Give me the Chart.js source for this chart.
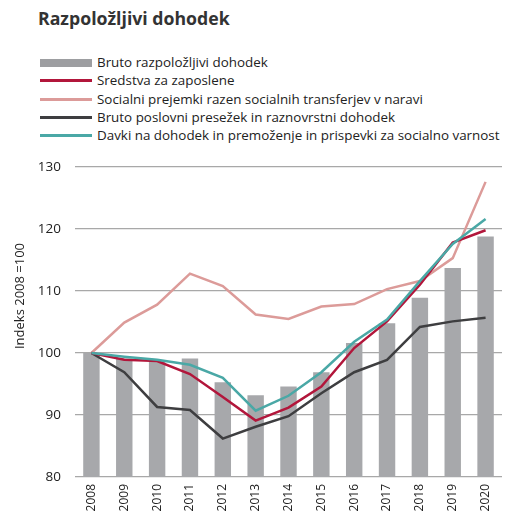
<!DOCTYPE html>
<html>
<head>
<meta charset="utf-8">
<script src="https://cdn.jsdelivr.net/npm/chart.js@4.4.1/dist/chart.umd.min.js"></script>
<style>
  html, body { margin:0; padding:0; background:#fff; }
  #wrap { position:relative; width:513px; height:513px; overflow:hidden; }
  #title { position:absolute; left:38px; top:6px; font-family:"Open Sans", sans-serif; font-weight:700; font-size:17.7px; color:#333; white-space:nowrap; }
  #legend { position:absolute; left:40px; top:53px; font-family:"Open Sans", sans-serif; font-size:13.4px; color:#222; }
  .item { position:relative; height:18.3px; line-height:18.3px; white-space:nowrap; }
  .sw { position:absolute; left:0; width:52px; }
  .txt { position:absolute; left:57px; top:0; }
  canvas { position:absolute; left:0; top:0; }
</style>
</head>
<body>
<div id="wrap">
  <div id="title">Razpoložljivi dohodek</div>
  <div id="legend"></div>
  <canvas id="c" width="513" height="513"></canvas>
</div>
<script>
const years = ["2008","2009","2010","2011","2012","2013","2014","2015","2016","2017","2018","2019","2020"];
const brutoRazpolozljivi = [100, 99.1, 98.8, 99.1, 95.3, 93.2, 94.6, 96.9, 101.6, 104.8, 108.9, 113.7, 118.8];
const sredstvaZaposlene = [100, 98.9, 98.7, 96.6, 92.9, 89.1, 91.2, 94.6, 100.8, 105.1, 111.0, 117.8, 119.8];
const socialniPrejemki = [100, 104.9, 107.8, 112.8, 110.8, 106.2, 105.5, 107.5, 107.9, 110.3, 111.6, 115.3, 127.6];
const poslovniPresezek = [100, 96.9, 91.3, 90.8, 86.2, 88.1, 89.8, 93.5, 96.9, 98.9, 104.2, 105.1, 105.7];
const davkiPrispevki = [100, 99.4, 98.9, 98.1, 96.0, 90.7, 93.1, 96.9, 101.8, 105.4, 111.6, 117.6, 121.6];
const yTicks = [80, 90, 100, 110, 120, 130];
const seriesNames = [
  "Bruto razpoložljivi dohodek",
  "Sredstva za zaposlene",
  "Socialni prejemki razen socialnih transferjev v naravi",
  "Bruto poslovni presežek in raznovrstni dohodek",
  "Davki na dohodek in premoženje in prispevki za socialno varnost"
];
const axisTitle = "Indeks 2008 =100";

const colors = ["#a7a8ab", "#b2163b", "#dc9b99", "#3e3e40", "#4aa8a6"];

// HTML legend
const leg = document.getElementById('legend');
seriesNames.forEach((n, i) => {
  const d = document.createElement('div'); d.className = 'item';
  const s = document.createElement('div'); s.className = 'sw';
  if (i === 0) { s.style.height = '8px'; s.style.top = '5.5px'; s.style.background = '#9d9ea1'; }
  else { s.style.height = '3px'; s.style.top = '8px'; s.style.background = colors[i]; }
  const t = document.createElement('div'); t.className = 'txt'; t.textContent = n;
  d.appendChild(s); d.appendChild(t); leg.appendChild(d);
});

const axisTitlePlugin = {
  id: 'axisTitlePlugin',
  afterDraw(chart) {
    const ctx = chart.ctx;
    ctx.save();
    ctx.translate(20, 296);
    ctx.rotate(-Math.PI / 2);
    ctx.font = '13px "Open Sans", sans-serif';
    ctx.fillStyle = '#222';
    ctx.textAlign = 'center';
    ctx.textBaseline = 'middle';
    ctx.fillText(axisTitle, 0, 0);
    ctx.restore();
  }
};

const lineDs = (label, data, color, order) => ({
  type: 'line', label, data, borderColor: color, backgroundColor: color,
  borderWidth: 2.5, pointRadius: 0, tension: 0, order, fill: false
});

new Chart(document.getElementById('c'), {
  data: {
    labels: years,
    datasets: [
      { type: 'bar', label: seriesNames[0], data: brutoRazpolozljivi, backgroundColor: colors[0],
        barPercentage: 0.5, categoryPercentage: 1.0, order: 10 },
      lineDs(seriesNames[1], sredstvaZaposlene, colors[1], 2),
      lineDs(seriesNames[2], socialniPrejemki, colors[2], 4),
      lineDs(seriesNames[3], poslovniPresezek, colors[3], 3),
      lineDs(seriesNames[4], davkiPrispevki, colors[4], 1)
    ]
  },
  options: {
    responsive: false,
    animation: false,
    devicePixelRatio: 1,
    layout: { padding: { top: 167, right: 11, left: 0, bottom: 0 } },
    plugins: { legend: { display: false }, tooltip: { enabled: false }, title: { display: false } },
    scales: {
      x: {
        grid: { display: false, drawTicks: false },
        border: { display: false },
        ticks: { minRotation: 90, maxRotation: 90, color: '#222', padding: 7,
                 font: { family: '"Open Sans", sans-serif', size: 12 } },
        afterFit(s) { s.height = 36; }
      },
      y: {
        min: 80, max: 130,
        afterBuildTicks(s) { s.ticks = yTicks.map(v => ({ value: v })); },
        grid: { color: '#a8a8a8', lineWidth: 1.2, drawTicks: false },
        border: { display: false },
        ticks: { color: '#222', padding: 14, font: { family: '"Open Sans", sans-serif', size: 13.5 } },
        afterFit(s) { s.width = 75; }
      }
    }
  },
  plugins: [axisTitlePlugin]
});
</script>
</body>
</html>
